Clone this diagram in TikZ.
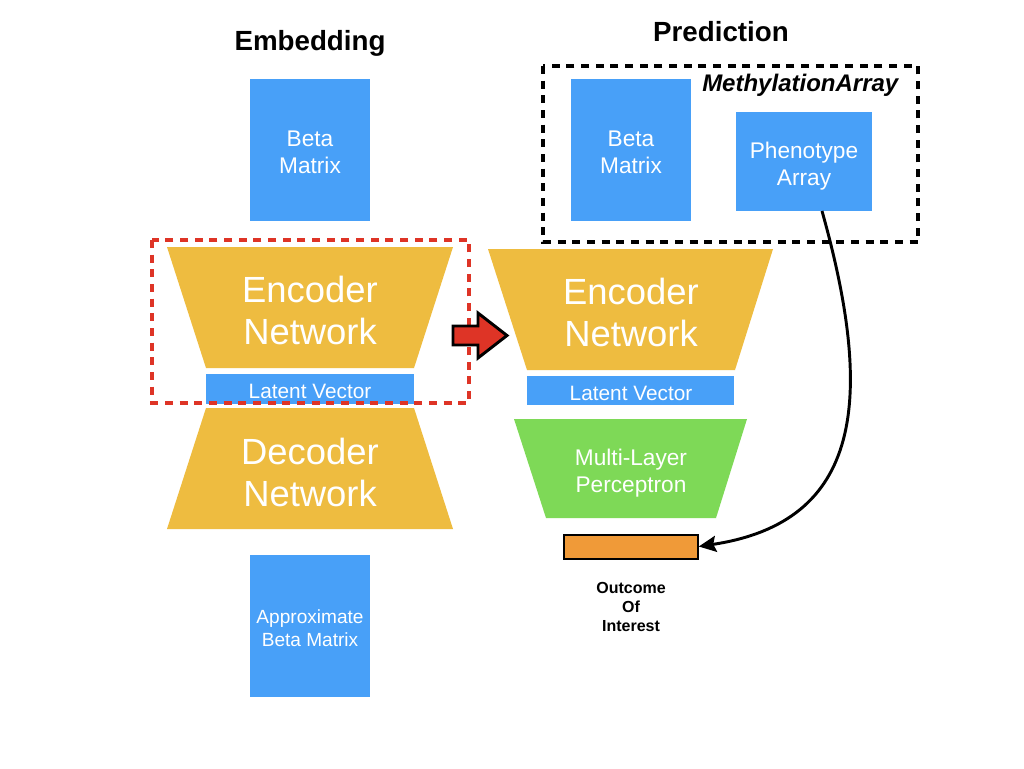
\documentclass[tikz,border=0pt]{standalone}
\usepackage{fontspec}
\setmainfont{Liberation Sans}
\usetikzlibrary{arrows.meta}
\definecolor{boxblue}{RGB}{72,160,248}
\definecolor{netyellow}{RGB}{238,188,64}
\definecolor{mlpgreen}{RGB}{126,217,87}
\definecolor{outorange}{RGB}{240,154,56}
\definecolor{dashred}{RGB}{222,52,38}
\begin{document}
\begin{tikzpicture}[x=0.75pt,y=-0.75pt,
  bigtxt/.style={text=white,align=center,font=\fontsize{27.3}{31.5}\selectfont},
  midtxt/.style={text=white,align=center,font=\fontsize{17}{20}\selectfont},
  lattxt/.style={text=white,font=\fontsize{15.6}{18}\selectfont},
  title/.style={font=\bfseries\fontsize{20.8}{24}\selectfont},
  net/.style={fill=netyellow},
  dashbox/.style={line width=3pt,dash pattern=on 6pt off 5pt}]
\useasboundingbox (0,0) rectangle (1024,768);
\fill[white] (0,0) rectangle (1024,768);
% titles
\node[title] (tEmb) at (310,43) {Embedding};
\node[title] (tPred) at (721,32) {Prediction};
% left column
\fill[boxblue] (250,79) rectangle (370,221);
\node[midtxt] (betaL) at (310,152) {Beta\\Matrix};
\fill[net] (167,247) -- (453,247) -- (414,368) -- (206,368) -- cycle;
\node[bigtxt] (encL) at (310,310) {Encoder\\Network};
\fill[boxblue] (206,374) rectangle (414,404);
\node[lattxt] (latL) at (310,391) {Latent Vector};
\fill[net] (206,408) -- (414,408) -- (453,529) -- (167,529) -- cycle;
\node[bigtxt] (decL) at (310,472) {Decoder\\Network};
\fill[boxblue] (250,555) rectangle (370,697);
\node[midtxt,font=\fontsize{14.3}{17}\selectfont] (approx) at (310,628) {Approximate\\Beta Matrix};
\draw[dashred,dashbox] (152,240) rectangle (469,403);
% right column
\draw[black,dashbox] (543,66) rectangle (918,242);
\node[font=\bfseries\itshape\fontsize{18}{20}\selectfont,anchor=east] (meth) at (903,85) {MethylationArray};
\fill[boxblue] (571,79) rectangle (691,221);
\node[midtxt] (betaR) at (631,152) {Beta\\Matrix};
\fill[boxblue] (736,112) rectangle (872,211);
\node[midtxt] (pheno) at (804,166) {Phenotype\\Array};
\coordinate (phenoS) at (822,211);
\fill[net] (488,249) -- (773,249) -- (735,370) -- (527,370) -- cycle;
\node[bigtxt] (encR) at (631,312) {Encoder\\Network};
\fill[boxblue] (527,376) rectangle (734,405);
\node[lattxt] (latR) at (631,393) {Latent Vector};
\fill[mlpgreen] (514,419) -- (747,419) -- (716,518) -- (546,518) -- cycle;
\node[midtxt] (mlp) at (631,473) {Multi-Layer\\Perceptron};
\node[draw=black,line width=1.5pt,fill=outorange,minimum width=133.5*0.75pt,minimum height=24*0.75pt,inner sep=0pt] (out) at (631,546.5) {};
\node[font=\bfseries\fontsize{12}{14.2}\selectfont,align=center] (outtxt) at (631,607) {Outcome\\Of\\Interest};
% red block arrow between encoders
\draw[line width=2.2pt,fill=dashred,line join=miter]
  (453,326) -- (478,326) -- (478,313) -- (507,335.5) -- (478,358) -- (478,345) -- (453,345) -- cycle;
% curved arrow
\draw[line width=2.2pt,-{Stealth[length=13pt,width=12pt,inset=2pt]}] (phenoS) .. controls (875,400) and (862,522) .. (out.east);
\end{tikzpicture}
\end{document}
